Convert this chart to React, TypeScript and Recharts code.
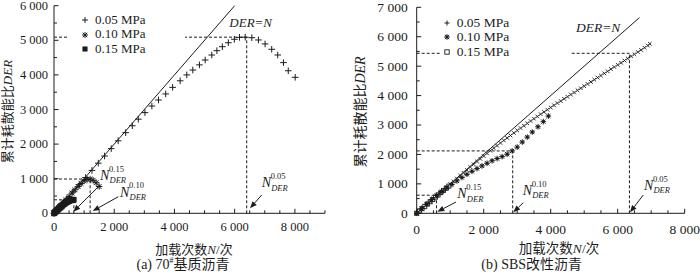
import React from 'react';
import { ScatterChart, Scatter, XAxis, YAxis, ReferenceLine, ReferenceDot, Legend } from 'recharts';

const INK = '#1c1c1c';
const SERIF = "'Liberation Serif', 'Noto Sans CJK SC', serif";

// (a) 70# base asphalt
const a005N = [0, 210, 420, 630, 840, 1050, 1260, 1470, 1680, 1900, 2130, 2380, 2600, 2800, 3020, 3250, 3470, 3710, 3940, 4190, 4410, 4610, 4830, 5020, 5240, 5410, 5590, 5790, 5990, 6160, 6350, 6570, 6790, 7010, 7230, 7430, 7620, 7780, 8010];
const a005DER = [0, 205, 412, 620, 828, 1035, 1240, 1450, 1655, 1870, 2095, 2330, 2530, 2720, 2910, 3100, 3275, 3450, 3640, 3830, 4000, 4140, 4290, 4430, 4575, 4700, 4815, 4930, 5030, 5085, 5090, 5075, 5010, 4895, 4740, 4575, 4355, 4120, 3930];
const a010N = [0, 100, 200, 300, 400, 500, 600, 700, 800, 900, 1000, 1100, 1200, 1300, 1400, 1500];
const a010DER = [0, 98, 196, 294, 392, 488, 585, 680, 772, 860, 935, 978, 990, 955, 885, 775];
const a015N = [0, 30, 60, 90, 120, 150, 180, 210, 240, 270, 300, 330, 360, 390, 420, 450, 480, 510, 540, 570, 600, 630, 650];
const a015DER = [0, 25, 50, 76, 101, 126, 151, 175, 199, 222, 245, 266, 287, 306, 324, 340, 354, 366, 376, 383, 388, 390, 388];

// (b) SBS modified asphalt
const b005N = [0, 100, 200, 300, 400, 500, 600, 700, 800, 900, 1000, 1100, 1200, 1300, 1400, 1500, 1600, 1700, 1800, 1900, 2000, 2100, 2200, 2300, 2400, 2500, 2600, 2700, 2800, 2900, 3000, 3100, 3200, 3300, 3400, 3500, 3600, 3700, 3800, 3900, 4000, 4100, 4200, 4300, 4400, 4500, 4600, 4700, 4800, 4900, 5000, 5100, 5200, 5300, 5400, 5500, 5600, 5700, 5800, 5900, 6000, 6100, 6200, 6300, 6400, 6500, 6600, 6700, 6800, 6900, 6960];
const b005DER = [0, 100, 200, 300, 400, 500, 598, 695, 795, 890, 990, 1085, 1180, 1280, 1375, 1470, 1570, 1665, 1760, 1850, 1945, 2035, 2125, 2215, 2300, 2390, 2475, 2560, 2645, 2730, 2815, 2895, 2975, 3055, 3135, 3215, 3290, 3370, 3445, 3520, 3595, 3670, 3745, 3815, 3890, 3960, 4035, 4105, 4180, 4250, 4320, 4395, 4465, 4540, 4610, 4680, 4755, 4825, 4900, 4970, 5045, 5115, 5190, 5260, 5335, 5405, 5480, 5550, 5625, 5700, 5760];
const b010N = [0, 150, 300, 450, 600, 750, 900, 1050, 1200, 1350, 1500, 1650, 1800, 1950, 2100, 2250, 2400, 2550, 2700, 2850, 3000, 3150, 3300, 3450, 3620, 3780, 3930];
const b010DER = [0, 155, 315, 465, 610, 740, 860, 980, 1100, 1215, 1325, 1425, 1520, 1610, 1700, 1785, 1860, 1925, 2010, 2120, 2250, 2420, 2590, 2760, 2940, 3115, 3305];
const b015N = [0, 80, 160, 240, 320, 400, 480, 560, 640, 720, 800, 880, 960];
const b015DER = [0, 80, 158, 236, 315, 392, 470, 548, 625, 700, 775, 850, 925];

const seriesNames = ['0.05 MPa', '0.10 MPa', '0.15 MPa'];

const xTicksA = [0, 500, 1000, 1500, 2000, 2500, 3000, 3500, 4000, 4500, 5000, 5500, 6000, 6500, 7000, 7500, 8000, 8500, 9000];
const yTicksA = [0, 500, 1000, 1500, 2000, 2500, 3000, 3500, 4000, 4500, 5000, 5500, 6000];
const xTicksB = [0, 500, 1000, 1500, 2000, 2500, 3000, 3500, 4000, 4500, 5000, 5500, 6000, 6500, 7000, 7500, 8000];
const yTicksB = [0, 500, 1000, 1500, 2000, 2500, 3000, 3500, 4000, 4500, 5000, 5500, 6000, 6500, 7000];

const zip = (n: number[], d: number[]) => n.map((N, i) => ({ N, DER: d[i] }));
const fmt = (v: number) => String(v).replace(/\B(?=(\d{3})+(?!\d))/g, ' ');

const makeXTick = (fs: number, dy: number) => (p: any) => {
  const v = p.payload.value;
  const lab = v % 2000 === 0;
  return (
    <g>
      <line x1={p.x} x2={p.x} y1={p.y} y2={p.y - (lab ? 4.5 : 3)} stroke={INK} />
      {lab && (
        <text x={p.x} y={p.y + dy} textAnchor="middle" fontSize={fs} fontFamily={SERIF} fill={INK}>
          {fmt(v)}
        </text>
      )}
    </g>
  );
};

const makeYTick = (fs: number, gap: number) => (p: any) => {
  const v = p.payload.value;
  const lab = v % 1000 === 0;
  return (
    <g>
      <line x1={p.x} x2={p.x + (lab ? 4.5 : 3)} y1={p.y} y2={p.y} stroke={INK} />
      {lab && (
        <text x={p.x - gap} y={p.y + fs * 0.33} textAnchor="end" fontSize={fs} fontFamily={SERIF} fill={INK}>
          {fmt(v)}
        </text>
      )}
    </g>
  );
};

// marker shapes
const plus = (s: number) => (p: any) => (
  <path d={`M${p.cx - s},${p.cy}H${p.cx + s}M${p.cx},${p.cy - s}V${p.cy + s}`} stroke={INK} strokeWidth={1} fill="none" />
);
const cross = (s: number) => (p: any) => (
  <path d={`M${p.cx - s},${p.cy - s}L${p.cx + s},${p.cy + s}M${p.cx - s},${p.cy + s}L${p.cx + s},${p.cy - s}`} stroke="#2a2a2a" strokeWidth={1} fill="none" />
);
const star = (s: number, dot: number) => (p: any) => {
  const d = s * 0.75;
  return (
    <g>
      <path
        d={`M${p.cx - s},${p.cy}H${p.cx + s}M${p.cx},${p.cy - s}V${p.cy + s}M${p.cx - d},${p.cy - d}L${p.cx + d},${p.cy + d}M${p.cx - d},${p.cy + d}L${p.cx + d},${p.cy - d}`}
        stroke={INK}
        strokeWidth={1}
        fill="none"
      />
      {dot > 0 && <circle cx={p.cx} cy={p.cy} r={dot} fill={INK} />}
    </g>
  );
};
const square = (s: number, filled: boolean) => (p: any) => (
  <rect x={p.cx - s} y={p.cy - s} width={2 * s} height={2 * s} fill={filled ? INK : 'none'} stroke={INK} strokeWidth={filled ? 0.5 : 0.9} />
);

const arrowShape = (p: any) => {
  const { x1, y1, x2, y2 } = p;
  const a = Math.atan2(y2 - y1, x2 - x1);
  const L = 7;
  const W = 2.8;
  const bx = x2 - L * Math.cos(a);
  const by = y2 - L * Math.sin(a);
  const pts = `${x2},${y2} ${bx - W * Math.sin(a)},${by + W * Math.cos(a)} ${bx + W * Math.sin(a)},${by - W * Math.cos(a)}`;
  return (
    <g>
      <line x1={x1} y1={y1} x2={bx} y2={by} stroke={INK} strokeWidth={1} />
      <polygon points={pts} fill={INK} />
    </g>
  );
};

const nLabel = (sup: string) => (p: any) => (
  <g fontFamily={SERIF} fill={INK}>
    <text x={p.cx} y={p.cy} fontSize={14} fontStyle="italic">N</text>
    <text x={p.cx + 9} y={p.cy - 8.4} fontSize={8.5}>{sup}</text>
    <text x={p.cx + 9.5} y={p.cy + 3.4} fontSize={8.5} fontStyle="italic">DER</text>
  </g>
);

const derLabel = (fs: number) => (p: any) => (
  <text x={p.cx} y={p.cy} fontSize={fs} fontStyle="italic" fontFamily={SERIF} fill={INK}>DER=N</text>
);

const legendContent = (icons: ((p: any) => React.ReactElement)[], fs: number, rowH: number, mx: number, tx: number, padTop: number) => () => (
  <div style={{ background: '#fff', fontFamily: SERIF, fontSize: fs, color: INK, paddingTop: padTop, height: '100%', boxSizing: 'border-box' }}>
    {seriesNames.map((name, i) => (
      <div key={name} style={{ position: 'relative', height: rowH, lineHeight: `${rowH}px` }}>
        <svg width={12} height={12} style={{ position: 'absolute', left: mx - 6, top: rowH / 2 - 6 }}>
          {icons[i]({ cx: 6, cy: 6 })}
        </svg>
        <span style={{ position: 'absolute', left: tx, whiteSpace: 'nowrap' }}>{name}</span>
      </div>
    ))}
  </div>
);

const dash = { stroke: INK, strokeDasharray: '3 2', strokeWidth: 1 };

const centered = (x: number, y: number, fs: number, extra: React.CSSProperties = {}): React.CSSProperties => ({
  position: 'absolute',
  left: x,
  top: y,
  transform: 'translate(-50%, -50%)',
  fontFamily: SERIF,
  fontSize: fs,
  color: INK,
  whiteSpace: 'nowrap',
  ...extra,
});

// rotated axis title kept in svg for clean greyscale text
const YTitle = ({ x, y, fs }: { x: number; y: number; fs: number }) => (
  <svg width={24} height={275} style={{ position: 'absolute', left: x - 12, top: 0 }}>
    <text transform={`translate(12, ${y}) rotate(-90)`} textAnchor="middle" dominantBaseline="central" fontSize={fs} fontFamily={SERIF} fill={INK}>
      累计耗散能比<tspan fontStyle="italic">DER</tspan>
    </text>
  </svg>
);

export default function App() {
  return (
    <div style={{ position: 'absolute', left: 0, top: 0, width: 700, height: 275, background: '#fff', overflow: 'hidden' }}>
      {/* (a) */}
      <div style={{ position: 'absolute', left: 0, top: 0, width: 350, height: 275 }}>
        <ScatterChart width={350} height={275} margin={{ top: 5.7, right: 25, bottom: 31.7, left: 0 }}>
          <XAxis type="number" dataKey="N" domain={[0, 9000]} ticks={xTicksA} interval={0} height={30} tickSize={0} tickMargin={0} tickLine={false} axisLine={{ stroke: INK }} tick={makeXTick(12.5, 18)} />
          <YAxis type="number" dataKey="DER" domain={[0, 6000]} ticks={yTicksA} interval={0} width={54} tickSize={0} tickMargin={0} tickLine={false} axisLine={{ stroke: INK }} tick={makeYTick(12.5, 6)} />
          <ReferenceLine segment={[{ x: 0, y: 5090 }, { x: 6400, y: 5090 }]} {...dash} />
          <ReferenceLine segment={[{ x: 6400, y: 0 }, { x: 6400, y: 5090 }]} {...dash} />
          <ReferenceLine segment={[{ x: 0, y: 990 }, { x: 1200, y: 990 }]} {...dash} />
          <ReferenceLine segment={[{ x: 1200, y: 0 }, { x: 1200, y: 990 }]} {...dash} />
          <ReferenceLine segment={[{ x: 0, y: 390 }, { x: 660, y: 390 }]} {...dash} />
          <ReferenceLine segment={[{ x: 660, y: 0 }, { x: 660, y: 390 }]} {...dash} />
          <ReferenceLine segment={[{ x: 0, y: 0 }, { x: 6000, y: 6000 }]} stroke={INK} strokeWidth={1} />
          <Scatter name={seriesNames[0]} data={zip(a005N, a005DER)} shape={plus(3.3)} isAnimationActive={false} />
          <Scatter name={seriesNames[1]} data={zip(a010N, a010DER)} shape={star(3.2, 0)} isAnimationActive={false} />
          <Scatter name={seriesNames[2]} data={zip(a015N, a015DER)} shape={square(2.7, true)} isAnimationActive={false} />
          <ReferenceLine segment={[{ x: 1528, y: 815 }, { x: 641, y: 46 }]} shape={arrowShape} />
          <ReferenceLine segment={[{ x: 2136, y: 480 }, { x: 1285, y: 66 }]} shape={arrowShape} />
          <ReferenceLine segment={[{ x: 6898, y: 529 }, { x: 6510, y: 145 }]} shape={arrowShape} />
          <ReferenceDot x={1528} y={964} r={0} shape={nLabel('0.15')} />
          <ReferenceDot x={2192} y={480} r={0} shape={nLabel('0.10')} />
          <ReferenceDot x={6898} y={751} r={0} shape={nLabel('0.05')} />
          <ReferenceDot x={5822} y={5393} r={0} shape={derLabel(13)} />
          <Legend
            layout="vertical"
            align="center"
            verticalAlign="middle"
            wrapperStyle={{ left: 67, top: 10, width: 118, height: 47 }}
            content={legendContent([plus(3), star(3, 0), square(2.2, true)], 13, 14.6, 18, 28, 2.7)}
          />
        </ScatterChart>
        <YTitle x={7} y={111.5} fs={13} />
        <div style={centered(194, 247.5, 13)}>
          加载次数<i>N</i>/次
        </div>
        <div style={centered(183, 262.5, 14)}>
          (a) 70<sup style={{ fontSize: 8 }}>#</sup>基质沥青
        </div>
      </div>

      {/* (b) */}
      <div style={{ position: 'absolute', left: 350, top: 0, width: 350, height: 275 }}>
        <ScatterChart width={350} height={275} margin={{ top: 7.3, right: 15.3, bottom: 31.7, left: 0 }}>
          <XAxis type="number" dataKey="N" domain={[0, 8000]} ticks={xTicksB} interval={0} height={30} tickSize={0} tickMargin={0} tickLine={false} axisLine={{ stroke: INK }} tick={makeXTick(13.5, 20.5)} />
          <YAxis type="number" dataKey="DER" domain={[0, 7000]} ticks={yTicksB} interval={0} width={66.7} tickSize={0} tickMargin={0} tickLine={false} axisLine={{ stroke: INK }} tick={makeYTick(13.5, 9)} />
          <ReferenceLine segment={[{ x: 0, y: 5437 }, { x: 6350, y: 5437 }]} {...dash} />
          <ReferenceLine segment={[{ x: 6350, y: 0 }, { x: 6350, y: 5437 }]} {...dash} />
          <ReferenceLine segment={[{ x: 0, y: 2120 }, { x: 2866, y: 2120 }]} {...dash} />
          <ReferenceLine segment={[{ x: 2866, y: 0 }, { x: 2866, y: 2120 }]} {...dash} />
          <ReferenceLine segment={[{ x: 0, y: 615 }, { x: 590, y: 615 }]} {...dash} />
          <ReferenceLine segment={[{ x: 590, y: 0 }, { x: 590, y: 615 }]} {...dash} />
          <ReferenceLine segment={[{ x: 0, y: 0 }, { x: 6650, y: 6650 }]} stroke={INK} strokeWidth={1} />
          <Scatter name={seriesNames[0]} data={zip(b005N, b005DER)} shape={cross(1.8)} isAnimationActive={false} />
          <Scatter name={seriesNames[1]} data={zip(b010N, b010DER)} shape={star(2.8, 1.4)} isAnimationActive={false} />
          <Scatter name={seriesNames[2]} data={zip(b015N, b015DER)} shape={square(2, false)} isAnimationActive={false} />
          <ReferenceLine segment={[{ x: 1173, y: 381 }, { x: 615, y: 54 }]} shape={arrowShape} />
          <ReferenceLine segment={[{ x: 3182, y: 360 }, { x: 2884, y: 34 }]} shape={arrowShape} />
          <ReferenceLine segment={[{ x: 6764, y: 622 }, { x: 6367, y: 34 }]} shape={arrowShape} />
          <ReferenceDot x={1212} y={510} r={0} shape={nLabel('0.15')} />
          <ReferenceDot x={3164} y={622} r={0} shape={nLabel('0.10')} />
          <ReferenceDot x={6785} y={792} r={0} shape={nLabel('0.05')} />
          <ReferenceDot x={4755} y={6150} r={0} shape={derLabel(13.5)} />
          <Legend
            layout="vertical"
            align="center"
            verticalAlign="middle"
            wrapperStyle={{ left: 90, top: 13, width: 131, height: 45 }}
            content={legendContent([plus(2.5), star(2.8, 1.4), square(2.2, false)], 13.5, 14.2, 6.7, 16.7, 3.2)}
          />
        </ScatterChart>
        <YTitle x={10} y={112} fs={14} />
        <div style={centered(209, 246.7, 13.5)}>
          加载次数<i>N</i>/次
        </div>
        <div style={centered(181.7, 263, 14)}>
          (b) SBS改性沥青
        </div>
      </div>
    </div>
  );
}
